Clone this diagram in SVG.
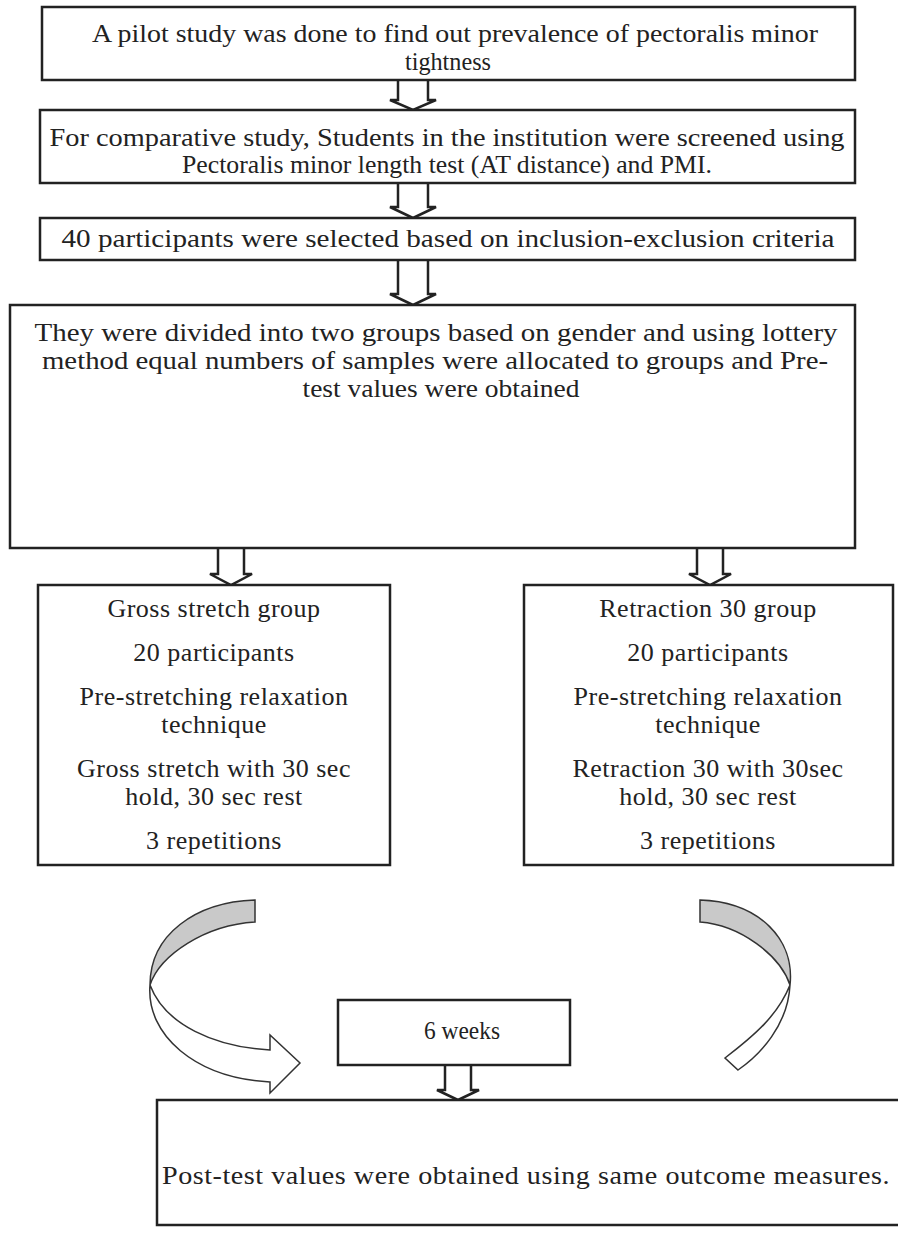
<svg xmlns="http://www.w3.org/2000/svg" width="898" height="1255" viewBox="0 0 898 1255">
<style>
.box{fill:#fff;stroke:#222;stroke-width:2.5}
.t{font-family:"Liberation Serif",serif;font-size:26px;fill:#222;text-anchor:middle}
.m{font-family:"Liberation Serif",serif;font-size:25px;fill:#222;text-anchor:middle}
.c{font-family:"Liberation Serif",serif;font-size:26px;letter-spacing:0.5px;fill:#222;text-anchor:middle}
.ba{fill:#fff;stroke:#222;stroke-width:2.5;stroke-linejoin:miter}
.gr{fill:#c9c9c9;stroke:#333;stroke-width:1.5}
.wh{fill:#fff;stroke:#333;stroke-width:1.5}
</style>
<rect width="898" height="1255" fill="#fff"/>
<g id="connectors">
<path class="ba" d="M398,80 V100 H390 L413,110 L436,100 H428 V80"/>
<path class="ba" d="M398,183 V207 H390 L413,218 L436,207 H428 V183"/>
<path class="ba" d="M398,260 V294 H390 L413,305 L436,294 H428 V260"/>
<path class="ba" d="M218,548 V574 H210 L231,585 L252,574 H244 V548"/>
<path class="ba" d="M697,548 V574 H689 L710,585 L731,574 H723 V548"/>
<path class="ba" d="M445,1065 V1090 H437 L458,1100 L479,1090 H471 V1065"/>
<g id="curve-left">
<path class="gr" d="M255,900 C195,902 150,935 150,985 C160,955 205,925 255,922 Z"/>
<path class="wh" d="M150,985 C146,1035 195,1078 270,1082 L270,1093 L300,1063 L270,1035 L270,1050 C215,1047 165,1025 150,985 Z"/>
</g>
<g id="curve-right">
<path class="gr" d="M700,900 C760,902 795,940 790,985 C780,955 740,925 700,922 Z"/>
<path class="wh" d="M790,985 C788,1025 760,1055 738,1070 L725,1058 C755,1035 778,1015 790,985 Z"/>
</g>
</g>
<g id="n1">
<rect class="box" x="42" y="7" width="813" height="73"/>
<text class="t" x="455" y="42" textLength="726" lengthAdjust="spacingAndGlyphs">A pilot study was done to find out prevalence of pectoralis minor</text>
<text class="t" x="448" y="70" textLength="86" lengthAdjust="spacingAndGlyphs">tightness</text>
</g>
<g id="n2">
<rect class="box" x="40" y="110" width="815" height="73"/>
<text class="m" x="447" y="146" textLength="795" lengthAdjust="spacingAndGlyphs">For comparative study, Students in the institution were screened using</text>
<text class="m" x="447" y="173" textLength="530" lengthAdjust="spacingAndGlyphs">Pectoralis minor length test (AT distance) and PMI.</text>
</g>
<g id="n3">
<rect class="box" x="40" y="218" width="815" height="42"/>
<text class="m" x="448" y="247" textLength="773" lengthAdjust="spacingAndGlyphs">40 participants were selected based on inclusion-exclusion criteria</text>
</g>
<g id="n4">
<rect class="box" x="10" y="305" width="845" height="243"/>
<text class="t" x="436" y="341" textLength="803" lengthAdjust="spacingAndGlyphs">They were divided into two groups based on gender and using lottery</text>
<text class="t" x="435" y="369" textLength="786" lengthAdjust="spacingAndGlyphs">method equal numbers of samples were allocated to groups and Pre-</text>
<text class="t" x="441" y="397" textLength="277" lengthAdjust="spacingAndGlyphs">test values were obtained</text>
</g>
<g id="n5">
<rect class="box" x="38" y="585" width="352" height="280"/>
<text class="c" x="214" y="617">Gross stretch group</text>
<text class="c" x="214" y="661">20 participants</text>
<text class="c" x="214" y="705">Pre-stretching relaxation</text>
<text class="c" x="214" y="733">technique</text>
<text class="c" x="214" y="777">Gross stretch with 30 sec</text>
<text class="c" x="214" y="805">hold, 30 sec rest</text>
<text class="c" x="214" y="849">3 repetitions</text>
</g>
<g id="n6">
<rect class="box" x="524" y="585" width="369" height="280"/>
<text class="c" x="708" y="617">Retraction 30 group</text>
<text class="c" x="708" y="661">20 participants</text>
<text class="c" x="708" y="705">Pre-stretching relaxation</text>
<text class="c" x="708" y="733">technique</text>
<text class="c" x="708" y="777">Retraction 30 with 30sec</text>
<text class="c" x="708" y="805">hold, 30 sec rest</text>
<text class="c" x="708" y="849">3 repetitions</text>
</g>
<g id="n7">
<rect class="box" x="338" y="1000" width="232" height="65"/>
<text class="t" x="462" y="1039" textLength="76" lengthAdjust="spacingAndGlyphs">6 weeks</text>
</g>
<g id="n8">
<path class="box" d="M898,1100 H157 V1225 H898"/>
<text class="c" x="526" y="1184" textLength="728" lengthAdjust="spacingAndGlyphs">Post-test values were obtained using same outcome measures.</text>
</g>
</svg>
